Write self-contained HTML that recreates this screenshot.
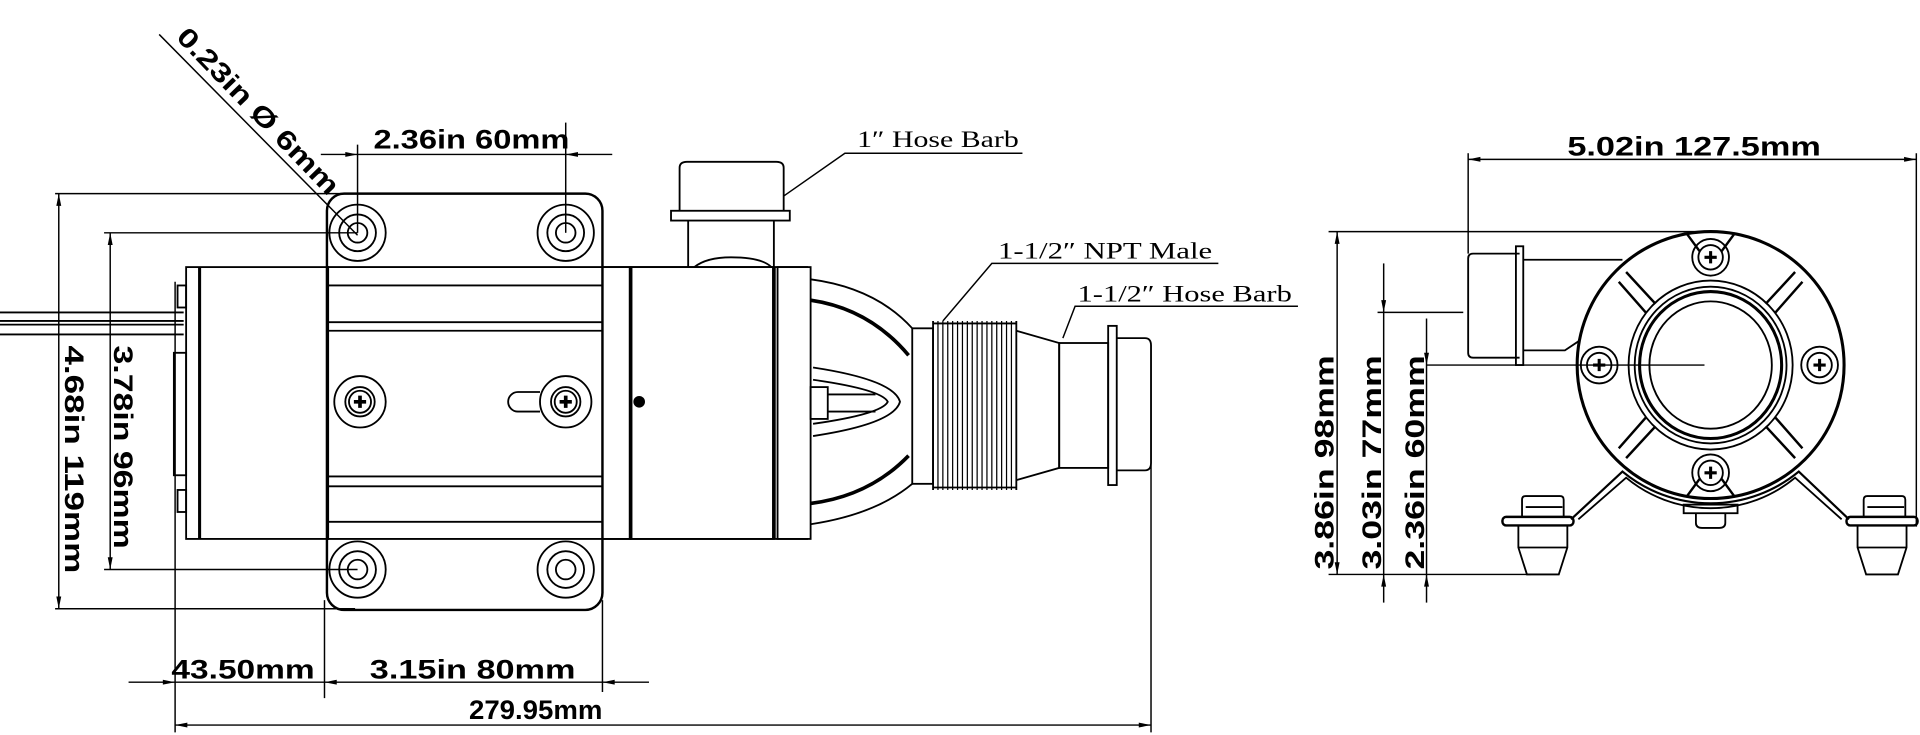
<!DOCTYPE html>
<html><head><meta charset="utf-8"><style>
html,body{margin:0;padding:0;background:#fff;}
svg{display:block;}
.d{font-family:"Liberation Sans",sans-serif;font-weight:bold;font-size:22px;fill:#000;}
.s{font-family:"Liberation Serif",serif;font-size:19px;fill:#000;}
</style></head><body>
<svg width="1920" height="735" viewBox="0 0 1568 600" xmlns="http://www.w3.org/2000/svg">
<defs>
<marker id="b" viewBox="0 0 20 10" refX="20" refY="5" markerWidth="18" markerHeight="5" orient="auto-start-reverse" markerUnits="userSpaceOnUse"><path d="M0,1 L20,5 L0,9 z" fill="#000"/></marker>
</defs>
<g fill="none" stroke="#000" stroke-width="1.5">
<line x1="0" y1="255" x2="150" y2="255"/><line x1="0" y1="262" x2="150" y2="262"/><line x1="0" y1="265" x2="150" y2="265"/><line x1="0" y1="273" x2="150" y2="273"/>
<rect x="152" y="218" width="116" height="222"/>
<line x1="163" y1="218" x2="163" y2="440" stroke-width="2.5"/>
<rect x="145" y="233" width="7" height="18"/><rect x="145" y="400" width="7" height="18"/>
<rect x="142" y="288" width="10" height="100"/>
<rect x="267" y="158" width="225" height="340" rx="14" stroke-width="2"/>
<line x1="267" y1="218" x2="660" y2="218"/><line x1="267" y1="440" x2="660" y2="440"/>
<line x1="267" y1="233" x2="492" y2="233"/><line x1="267" y1="263" x2="492" y2="263"/><line x1="267" y1="270" x2="492" y2="270"/>
<line x1="267" y1="389" x2="492" y2="389"/><line x1="267" y1="397" x2="492" y2="397"/><line x1="267" y1="426" x2="492" y2="426"/>
<g>
<circle cx="292" cy="190" r="23"/><circle cx="292" cy="190" r="15"/><circle cx="292" cy="190" r="8"/>
<circle cx="462" cy="190" r="23"/><circle cx="462" cy="190" r="15"/><circle cx="462" cy="190" r="8"/>
<circle cx="292" cy="465" r="23"/><circle cx="292" cy="465" r="15"/><circle cx="292" cy="465" r="8"/>
<circle cx="462" cy="465" r="23"/><circle cx="462" cy="465" r="15"/><circle cx="462" cy="465" r="8"/>
<circle cx="294" cy="328" r="21"/><circle cx="294" cy="328" r="12"/><circle cx="294" cy="328" r="9"/>
<circle cx="462" cy="328" r="21"/><circle cx="462" cy="328" r="12"/><circle cx="462" cy="328" r="9"/>
<path d="M289,328h10M294,323v10M457,328h10M462,323v10" stroke-width="3"/>
<path d="M441,320 h-18 a8,8 0 0 0 0,16 h18"/>
</g>
<rect x="492" y="218" width="23" height="222"/>
<line x1="515" y1="218" x2="515" y2="440" stroke-width="3"/>
<rect x="515" y="218" width="117" height="222"/>
<line x1="632" y1="218" x2="632" y2="440" stroke-width="3"/>
<rect x="635" y="218" width="27" height="222"/>
<circle cx="522" cy="328" r="4" fill="#000"/>
<path d="M562,218 V180 M632,218 V180"/>
<path d="M567,218 q10,-8 30,-8 q25,0 33,8"/>
<rect x="548" y="172" width="97" height="8"/>
<path d="M555,172 V137 q0,-5 6,-5 h73 q6,0 6,5 V172"/>
<path d="M662,228 Q715,235 745,268 M662,428 Q715,420 745,395"/>
<path d="M662,245 Q710,252 742,290 M662,411 Q710,405 742,372" stroke-width="3"/>
<path d="M664,300 Q730,310 735,328 Q730,346 664,356"/>
<path d="M664,310 Q720,318 725,328 Q720,338 664,346"/>
<rect x="662" y="316" width="14" height="26"/>
<line x1="676" y1="322" x2="715" y2="322"/><line x1="676" y1="336" x2="715" y2="336"/>
<rect x="745" y="268" width="17" height="127"/>
<path d="M762,262 V400 M830,262 V400 M762,264 H830 M762,398 H830"/>
<path d="M766,262V400M770,262V400M774,262V400M778,262V400M782,262V400M786,262V400M790,262V400M794,262V400M798,262V400M802,262V400M806,262V400M810,262V400M814,262V400M818,262V400M822,262V400M826,262V400" stroke-width="1"/>
<path d="M830,270 L865,280 V382 L830,392"/>
<rect x="865" y="280" width="40" height="102"/>
<rect x="905" y="266" width="7" height="130"/>
<path d="M912,276 H935 q5,0 5,6 V378 q0,6 -5,6 H912"/>

<!-- RIGHT VIEW -->
<circle cx="1397" cy="298" r="109" stroke-width="2.5"/>
<ellipse cx="1397" cy="298" rx="67" ry="69"/>
<ellipse cx="1397" cy="298" rx="62" ry="64"/>
<ellipse cx="1397" cy="298" rx="58" ry="60" stroke-width="2.5"/>
<ellipse cx="1397" cy="298" rx="50" ry="52"/>
<path d="M1344,255 L1322,230 M1352,248 L1328,222 M1450,255 L1472,230 M1442,248 L1466,222 M1344,341 L1322,366 M1352,348 L1328,374 M1450,341 L1472,366 M1442,348 L1466,374" stroke-width="2"/>
<path d="M1377,190 L1388,205 M1417,190 L1406,205 M1377,406 L1388,391 M1417,406 L1406,391" stroke-width="2"/>
<g>
<circle cx="1397" cy="210" r="15"/><circle cx="1397" cy="210" r="10"/>
<circle cx="1397" cy="386" r="15"/><circle cx="1397" cy="386" r="10"/>
<circle cx="1306" cy="298" r="15"/><circle cx="1306" cy="298" r="10"/>
<circle cx="1486" cy="298" r="15"/><circle cx="1486" cy="298" r="10"/>
<path d="M1392,210h10M1397,205v10M1392,386h10M1397,381v10M1301,298h10M1306,293v10M1481,298h10M1486,293v10" stroke-width="2.5"/>
</g>
<path d="M1241,207 H1203 q-4,0 -4,4 V288 q0,4 4,4 H1241"/>
<rect x="1238" y="201" width="6" height="97"/>
<path d="M1244,212 H1325 M1244,286 H1278 L1290,278"/>
<path d="M1283,424 L1325,385 A113,113 0 0 0 1469,385 L1510,424" stroke-width="1.8"/>
<path d="M1289,424 L1328,390 A108,108 0 0 0 1466,390 L1504,424" stroke-width="1.5"/>
<rect x="1375" y="412" width="44" height="7"/><path d="M1385,419 v8 q0,4 5,4 h14 q5,0 5,-4 v-8"/>
<rect x="1227" y="422" width="58" height="7" rx="3" stroke-width="2"/>
<rect x="1508" y="422" width="58" height="7" rx="3" stroke-width="2"/>
<path d="M1243,422 V408 q0,-3 3,-3 h28 q3,0 3,3 V422 M1246,414 h30"/>
<path d="M1522,422 V408 q0,-3 3,-3 h28 q3,0 3,3 V422 M1525,414 h30"/>
<path d="M1240,429 V447 L1247,469 H1273 L1280,447 V429 M1240,447 H1280"/>
<path d="M1517,429 V447 L1524,469 H1550 L1557,447 V429 M1517,447 H1557"/>
</g>

<g fill="none" stroke="#000" stroke-width="1.2">
<line x1="292" y1="118" x2="292" y2="190"/><line x1="462" y1="100" x2="462" y2="190"/>
<line x1="262" y1="126" x2="292" y2="126" marker-end="url(#b)"/><line x1="500" y1="126" x2="462" y2="126" marker-end="url(#b)"/>
<line x1="292" y1="126" x2="462" y2="126"/>
<line x1="130" y1="28" x2="292" y2="192"/>
<line x1="45" y1="158" x2="470" y2="158"/><line x1="45" y1="497" x2="290" y2="497"/>
<line x1="48" y1="158" x2="48" y2="497" marker-start="url(#b)" marker-end="url(#b)"/>
<line x1="85" y1="190" x2="292" y2="190"/><line x1="85" y1="465" x2="292" y2="465"/>
<line x1="90" y1="190" x2="90" y2="465" marker-start="url(#b)" marker-end="url(#b)"/>
<line x1="143" y1="230" x2="143" y2="598"/><line x1="265" y1="490" x2="265" y2="570"/><line x1="492" y1="490" x2="492" y2="565"/>
<line x1="940" y1="380" x2="940" y2="598"/>
<line x1="105" y1="557" x2="143" y2="557" marker-end="url(#b)"/><line x1="143" y1="557" x2="265" y2="557"/>
<line x1="265" y1="557" x2="492" y2="557" marker-start="url(#b)"/><line x1="530" y1="557" x2="492" y2="557" marker-end="url(#b)"/>
<line x1="143" y1="592" x2="940" y2="592" marker-start="url(#b)" marker-end="url(#b)"/>
<path d="M835,125 H690 L640,160"/>
<path d="M995,215 H810 L770,262"/>
<path d="M1060,250 H878 L868,276"/>
<line x1="1199" y1="125" x2="1199" y2="207"/><line x1="1565" y1="125" x2="1565" y2="430"/>
<line x1="1199" y1="130" x2="1565" y2="130" marker-start="url(#b)" marker-end="url(#b)"/>
<line x1="1085" y1="189" x2="1400" y2="189"/><line x1="1085" y1="469" x2="1250" y2="469"/>
<line x1="1092" y1="189" x2="1092" y2="469" marker-start="url(#b)" marker-end="url(#b)"/>
<line x1="1125" y1="255" x2="1195" y2="255"/>
<line x1="1130" y1="215" x2="1130" y2="255" marker-end="url(#b)"/>
<line x1="1130" y1="255" x2="1130" y2="469"/>
<line x1="1130" y1="492" x2="1130" y2="469" marker-end="url(#b)"/>
<line x1="1165" y1="298" x2="1392" y2="298"/>
<line x1="1165" y1="260" x2="1165" y2="298" marker-end="url(#b)"/>
<line x1="1165" y1="298" x2="1165" y2="469"/>
<line x1="1165" y1="492" x2="1165" y2="469" marker-end="url(#b)"/>
</g>

<g>
<text class="d" x="305" y="121" textLength="160" lengthAdjust="spacingAndGlyphs">2.36in 60mm</text>
<text class="d" transform="translate(143,31) rotate(46)" textLength="180" lengthAdjust="spacingAndGlyphs">0.23in  Ø 6mm</text>
<text class="d" transform="translate(53,282) rotate(90)" textLength="186" lengthAdjust="spacingAndGlyphs">4.68in  119mm</text>
<text class="d" transform="translate(93,282) rotate(90)" textLength="166" lengthAdjust="spacingAndGlyphs">3.78in  96mm</text>
<text class="d" x="140" y="554" textLength="117" lengthAdjust="spacingAndGlyphs">43.50mm</text>
<text class="d" x="302" y="554" textLength="168" lengthAdjust="spacingAndGlyphs">3.15in  80mm</text>
<text class="d" x="383" y="587" textLength="109" lengthAdjust="spacingAndGlyphs">279.95mm</text>
<text class="d" x="1280" y="127" textLength="207" lengthAdjust="spacingAndGlyphs">5.02in   127.5mm</text>
<text class="d" transform="translate(1089,465) rotate(-90)" textLength="175" lengthAdjust="spacingAndGlyphs">3.86in  98mm</text>
<text class="d" transform="translate(1128,465) rotate(-90)" textLength="175" lengthAdjust="spacingAndGlyphs">3.03in   77mm</text>
<text class="d" transform="translate(1163,465) rotate(-90)" textLength="175" lengthAdjust="spacingAndGlyphs">2.36in   60mm</text>
<text class="s" x="700" y="120" textLength="132" lengthAdjust="spacingAndGlyphs">1″  Hose Barb</text>
<text class="s" x="815" y="211" textLength="175" lengthAdjust="spacingAndGlyphs">1-1/2″  NPT Male</text>
<text class="s" x="880" y="246" textLength="175" lengthAdjust="spacingAndGlyphs">1-1/2″  Hose Barb</text>
</g>
</svg>
</body></html>
